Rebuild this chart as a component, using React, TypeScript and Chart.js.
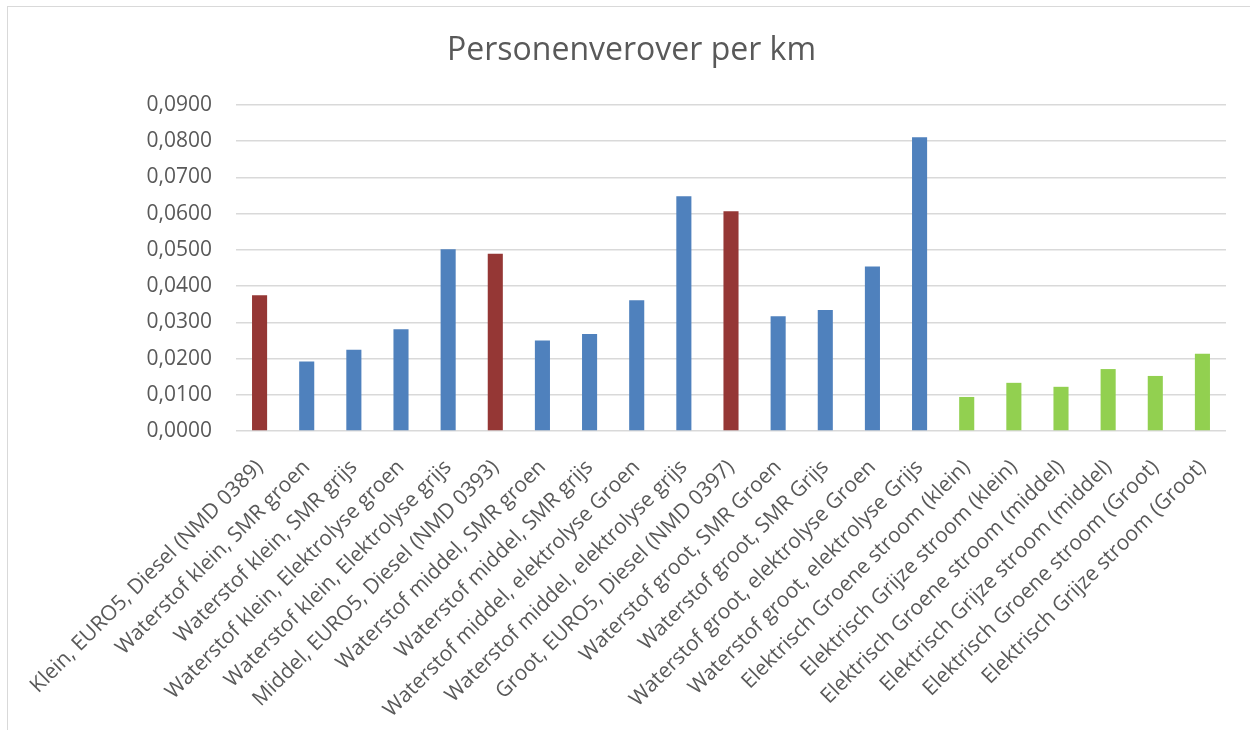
import React, { useEffect, useRef } from "react";
import { Chart, registerables } from "chart.js";

Chart.register(...registerables);

const title = "Personenverover per km";

const categories = [
  "Klein, EURO5, Diesel (NMD 0389)",
  "Waterstof klein, SMR groen",
  "Waterstof klein, SMR grijs",
  "Waterstof klein, Elektrolyse groen",
  "Waterstof klein, Elektrolyse grijs",
  "Middel, EURO5, Diesel (NMD 0393)",
  "Waterstof middel, SMR groen",
  "Waterstof middel, SMR grijs",
  "Waterstof middel, elektrolyse Groen",
  "Waterstof middel, elektrolyse grijs",
  "Groot, EURO5, Diesel (NMD 0397)",
  "Waterstof groot, SMR Groen",
  "Waterstof groot, SMR Grijs",
  "Waterstof groot, elektrolyse Groen",
  "Waterstof groot, elektrolyse Grijs",
  "Elektrisch Groene stroom (klein)",
  "Elektrisch Grijze stroom (klein)",
  "Elektrisch Groene stroom (middel)",
  "Elektrisch Grijze stroom (middel)",
  "Elektrisch Groene stroom (Groot)",
  "Elektrisch Grijze stroom (Groot)",
];

const values = [
  0.0375, 0.0192, 0.0224, 0.0281, 0.0502,
  0.0489, 0.0250, 0.0268, 0.0361, 0.0648,
  0.0607, 0.0317, 0.0334, 0.0454, 0.0811,
  0.0094, 0.0133, 0.0122, 0.0171, 0.0152, 0.0213,
];

const groups = [
  "diesel", "waterstof", "waterstof", "waterstof", "waterstof",
  "diesel", "waterstof", "waterstof", "waterstof", "waterstof",
  "diesel", "waterstof", "waterstof", "waterstof", "waterstof",
  "elektrisch", "elektrisch", "elektrisch", "elektrisch", "elektrisch", "elektrisch",
];

const yMin = 0;
const yMax = 0.09;
const yStep = 0.01;

const groupColors: Record<string, string> = {
  diesel: "#953735",
  waterstof: "#4F81BD",
  elektrisch: "#92D050",
};

export default function App() {
  const ref = useRef<HTMLCanvasElement | null>(null);

  useEffect(() => {
    if (!ref.current) return;
    const chart = new Chart(ref.current, {
      type: "bar",
      data: {
        labels: categories,
        datasets: [
          {
            data: values,
            backgroundColor: groups.map((g) => groupColors[g]),
            borderWidth: 0,
            barPercentage: 0.32,
            categoryPercentage: 1,
          },
        ],
      },
      options: {
        animation: false,
        responsive: false,
        maintainAspectRatio: false,
        layout: { padding: { left: 37, right: 24, top: 0, bottom: 0 } },
        plugins: {
          legend: { display: false },
          tooltip: { enabled: false },
          title: {
            display: true,
            text: title,
            color: "#595959",
            font: { family: "'Open Sans'", size: 32, weight: "normal" },
            padding: { top: 32, bottom: 34.6 },
          },
        },
        scales: {
          x: {
            grid: { display: false, drawTicks: false },
            border: { display: false },
            ticks: {
              autoSkip: false,
              maxRotation: 45,
              minRotation: 45,
              padding: 24,
              color: "#595959",
              font: { family: "'Open Sans'", size: 21 },
            },
            afterFit: (scale: any) => {
              scale.height = 299;
            },
          },
          y: {
            min: yMin,
            max: yMax,
            grid: { color: "#D9D9D9", lineWidth: 1.5, drawTicks: false },
            border: { display: false },
            ticks: {
              stepSize: yStep,
              padding: 24,
              color: "#595959",
              font: { family: "'Open Sans'", size: 21 },
              callback: (v: any) => Number(v).toFixed(4).replace(".", ","),
            },
            afterFit: (scale: any) => {
              scale.width = 199;
            },
          },
        },
      },
    });
    return () => chart.destroy();
  }, []);

  return (
    <div
      style={{
        position: "absolute",
        left: 0,
        top: 0,
        width: 1250,
        height: 730,
        overflow: "hidden",
        background: "#fff",
      }}
    >
      <div
        style={{
          position: "absolute",
          left: 7,
          top: 6,
          width: 1300,
          height: 800,
          border: "1px solid #D9D9D9",
        }}
      />
      <canvas
        ref={ref}
        width={1250}
        height={730}
        style={{ position: "absolute", left: 0, top: 0, width: 1250, height: 730 }}
      />
    </div>
  );
}
